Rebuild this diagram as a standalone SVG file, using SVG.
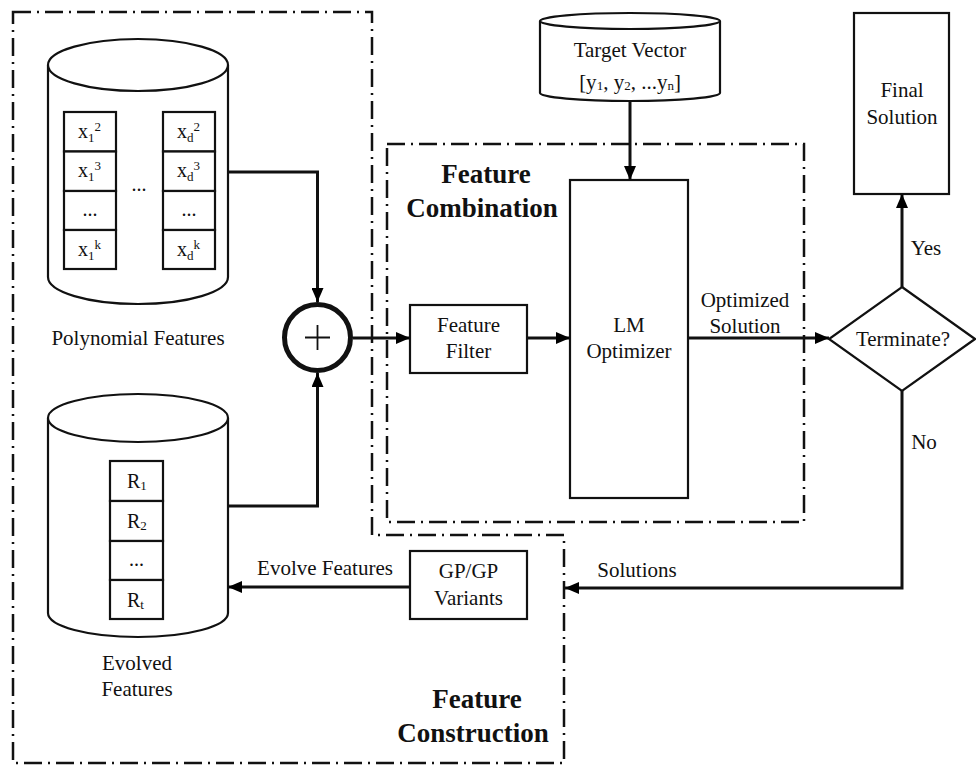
<svg xmlns="http://www.w3.org/2000/svg" width="976" height="765" viewBox="0 0 976 765">
<defs>
<marker id="arr" markerUnits="userSpaceOnUse" markerWidth="14" markerHeight="12" refX="14" refY="6" orient="auto">
<path d="M0,0 L14,6 L0,12 z" fill="#000"/>
</marker>
<style>
text{font-family:"Liberation Serif","Times New Roman",serif;fill:#111;}
.t{font-size:21px;text-anchor:middle;}
.c{font-size:20px;}
.s{font-size:13px;}
.b{font-size:27px;font-weight:bold;text-anchor:middle;}
.box{fill:#fff;stroke:#111;stroke-width:2.2;}
.cell{fill:#fff;stroke:#111;stroke-width:2.2;}
.region{fill:none;stroke:#111;stroke-width:2.5;stroke-dasharray:18 6 2 6;}
.con{fill:none;stroke:#111;stroke-width:3;}
.arrow{marker-end:url(#arr);}
</style>
</defs>
<rect width="976" height="765" fill="#fff"/>

<g id="feature-construction-region">
<path class="region" d="M13,12 L372,12 L372,535 L564,535 L564,763 L13,763 Z"/>
<text class="b" x="477" y="708">Feature</text>
<text class="b" x="473" y="742">Construction</text>
</g>

<g id="feature-combination-region">
<path class="region" d="M387,144 L804,144 L804,522 L387,522 Z"/>
<text class="b" x="486" y="183">Feature</text>
<text class="b" x="482" y="217">Combination</text>
</g>

<g id="polynomial-features">
<path class="box" d="M48,65 L48,277 A90,27 0 0 0 228,277 L228,65"/>
<ellipse class="box" cx="138" cy="65" rx="90" ry="26"/>
<rect class="cell" x="64" y="112" width="52" height="39.5"/>
<rect class="cell" x="64" y="151.5" width="52" height="39.5"/>
<rect class="cell" x="64" y="191" width="52" height="39"/>
<rect class="cell" x="64" y="230" width="52" height="39"/>
<rect class="cell" x="163" y="112" width="52" height="39.5"/>
<rect class="cell" x="163" y="151.5" width="52" height="39.5"/>
<rect class="cell" x="163" y="191" width="52" height="39"/>
<rect class="cell" x="163" y="230" width="52" height="39"/>
<text class="c" x="78" y="138">x<tspan class="s" dy="4">1</tspan><tspan class="s" dy="-11">2</tspan></text>
<text class="c" x="78" y="177">x<tspan class="s" dy="4">1</tspan><tspan class="s" dy="-11">3</tspan></text>
<text class="c" x="90" y="216" text-anchor="middle">...</text>
<text class="c" x="78" y="256">x<tspan class="s" dy="4">1</tspan><tspan class="s" dy="-11">k</tspan></text>
<text class="c" x="177" y="138">x<tspan class="s" dy="4">d</tspan><tspan class="s" dy="-11">2</tspan></text>
<text class="c" x="177" y="177">x<tspan class="s" dy="4">d</tspan><tspan class="s" dy="-11">3</tspan></text>
<text class="c" x="189" y="216" text-anchor="middle">...</text>
<text class="c" x="177" y="256">x<tspan class="s" dy="4">d</tspan><tspan class="s" dy="-11">k</tspan></text>
<text class="c" x="139" y="191" text-anchor="middle">...</text>
<text class="t" x="138" y="345">Polynomial Features</text>
</g>

<g id="evolved-features">
<path class="box" d="M48,418 L48,613 A90,24 0 0 0 228,613 L228,418"/>
<ellipse class="box" cx="138" cy="418" rx="90" ry="24"/>
<rect class="cell" x="110" y="461" width="53" height="40"/>
<rect class="cell" x="110" y="501" width="53" height="40"/>
<rect class="cell" x="110" y="541" width="53" height="39"/>
<rect class="cell" x="110" y="580" width="53" height="39"/>
<text class="c" x="127" y="488">R<tspan class="s" dy="2">1</tspan></text>
<text class="c" x="127" y="528">R<tspan class="s" dy="2">2</tspan></text>
<text class="c" x="136.5" y="566" text-anchor="middle">...</text>
<text class="c" x="127" y="607">R<tspan class="s" dy="2">t</tspan></text>
<text class="t" x="137" y="670">Evolved</text>
<text class="t" x="137" y="696">Features</text>
</g>

<g id="sum-node">
<circle cx="317.5" cy="337.5" r="33" fill="#fff" stroke="#111" stroke-width="5"/>
<path d="M305,337.5 H330 M317.5,325 V350" stroke="#111" stroke-width="1.8"/>
</g>

<g id="feature-filter">
<rect class="box" x="410" y="305" width="117" height="68"/>
<text class="t" x="468.5" y="332">Feature</text>
<text class="t" x="468.5" y="358">Filter</text>
</g>

<g id="lm-optimizer">
<rect class="box" x="570" y="180" width="118" height="318"/>
<text class="t" x="629" y="332">LM</text>
<text class="t" x="629" y="358">Optimizer</text>
</g>

<g id="target-vector">
<path class="box" d="M540,21 L540,93 A90,8 0 0 0 720,93 L720,21"/>
<ellipse class="box" cx="630" cy="21" rx="90" ry="8"/>
<text class="t" x="630" y="57">Target Vector</text>
<text class="t" x="630" y="89">[y<tspan class="s" dy="1">1</tspan><tspan dy="-1">, y</tspan><tspan class="s" dy="1">2</tspan><tspan dy="-1">, ...y</tspan><tspan class="s" dy="1">n</tspan><tspan dy="-1">]</tspan></text>
</g>

<g id="terminate">
<polygon class="box" points="902,287 975,339 902,391 829,339"/>
<text class="t" x="903" y="346">Terminate?</text>
</g>

<g id="final-solution">
<rect class="box" x="854" y="13" width="95" height="181"/>
<text class="t" x="902" y="97">Final</text>
<text class="t" x="902" y="124">Solution</text>
</g>

<g id="gp-variants">
<rect class="box" x="410" y="551" width="117" height="68"/>
<text class="t" x="468.5" y="578">GP/GP</text>
<text class="t" x="468.5" y="605">Variants</text>
</g>

<g id="connectors">
<path class="con arrow" d="M228,172 H317.5 V302"/>
<path class="con arrow" d="M228,506 H317.5 V373"/>
<path class="con arrow" d="M353,338 H410"/>
<path class="con arrow" d="M527,338 H570"/>
<path class="con arrow" d="M630,102 V180"/>
<path class="con arrow" d="M688,338 H829"/>
<path class="con arrow" d="M902,287 V194"/>
<path class="con arrow" d="M902,391 V588 H565"/>
<path class="con arrow" d="M410,587 H228"/>
<text class="t" x="745" y="307">Optimized</text>
<text class="t" x="745" y="333">Solution</text>
<text class="t" x="926" y="255">Yes</text>
<text class="t" x="924" y="449">No</text>
<text class="t" x="637" y="577">Solutions</text>
<text class="t" x="325" y="575">Evolve Features</text>
</g>
</svg>
